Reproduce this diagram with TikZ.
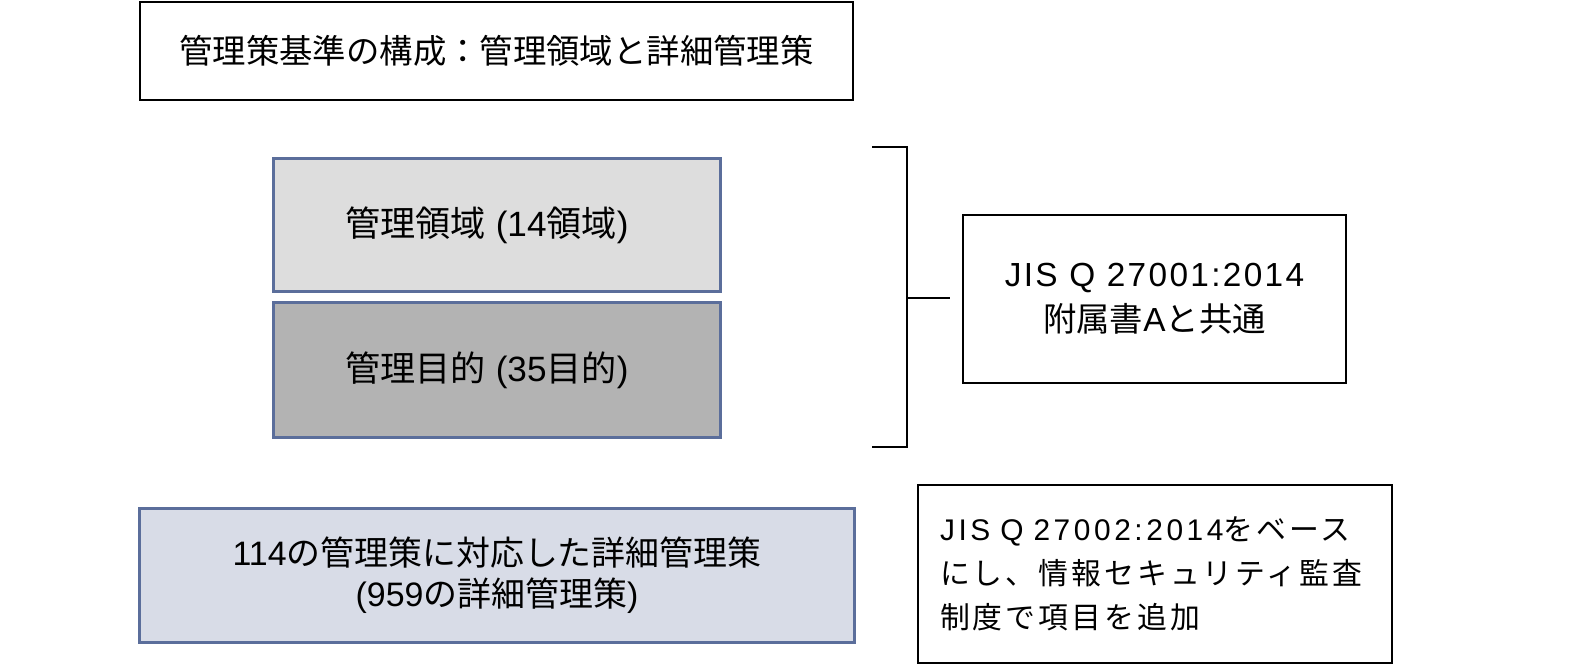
\documentclass[tikz,border=0pt]{standalone}
\usepackage{fontspec}
\setmainfont{Liberation Sans}
\newfontfamily\jp{Noto Sans CJK JP}
\newfontfamily\jpsp[LetterSpace=10]{Noto Sans CJK JP}
\newfontfamily\lasp[LetterSpace=12]{Liberation Sans}
\newfontfamily\lasm[LetterSpace=7]{Liberation Sans}
\definecolor{bluebd}{HTML}{5B6E9B}
\definecolor{fillA}{HTML}{DDDDDD}
\definecolor{fillB}{HTML}{B3B3B3}
\definecolor{fillC}{HTML}{D8DCE7}
\tikzset{
  plainbox/.style={draw=black, line width=1.1pt, fill=white, align=center, inner sep=0pt},
  bluebox/.style={draw=bluebd, line width=1.7pt, align=center, inner sep=0pt},
  brk/.style={draw=black, line width=1.1pt}
}
\begin{document}
\begin{tikzpicture}[x=0.02cm,y=-0.02cm]
\useasboundingbox[fill=white] (0,0) rectangle (1586,665);
\node[plainbox, minimum width=14.26cm, minimum height=1.96cm, font=\fontsize{19}{23}\selectfont] (title) at (496.5,51) {\jp 管理策基準の構成：管理領域と詳細管理策};
\node[bluebox, fill=fillA, minimum width=8.96cm, minimum height=2.68cm, font=\fontsize{20}{24}\selectfont] (dom) at (497,225) {{\jp 管理領域} (14{\jp 領域})\hspace{0.4cm}};
\node[bluebox, fill=fillB, minimum width=8.96cm, minimum height=2.72cm, font=\fontsize{20}{24}\selectfont] (obj) at (497,370) {{\jp 管理目的} (35{\jp 目的})\hspace{0.4cm}};
\node[bluebox, fill=fillC, minimum width=14.32cm, minimum height=2.70cm, font=\fontsize{19.3}{23.5}\selectfont] (det) at (497,575.5) {114{\jp の管理策に対応した詳細管理策}\\(959{\jp の詳細管理策})};
\node[plainbox, minimum width=7.66cm, minimum height=3.36cm, font=\fontsize{19}{25.5}\selectfont] (jis1) at (1154.5,299) {{\lasm JIS Q 27001:2014}\\{\jp 附属書}A{\jp と共通}};
\node[plainbox, text width=8.6cm, inner xsep=0.44cm, minimum height=3.56cm, align=left, font=\fontsize{17}{25}\selectfont] (jis2) at (1155,574) {\raisebox{-2.5pt}{\parbox{8.6cm}{{\lasp JIS Q 27002:2014}{\jpsp をベース}\\{\jpsp にし、情報セキュリティ監査}\\{\jpsp 制度で項目を追加}}}};
\coordinate (bt) at (872,147);
\coordinate (bb) at (872,447);
\coordinate (bm) at (907,298);
\draw[brk] (bt) -- (907,147) -- (907,447) -- (bb);
\draw[brk, shorten >=12*0.02cm] (bm) -- (bm -| jis1.west);
\end{tikzpicture}
\end{document}
